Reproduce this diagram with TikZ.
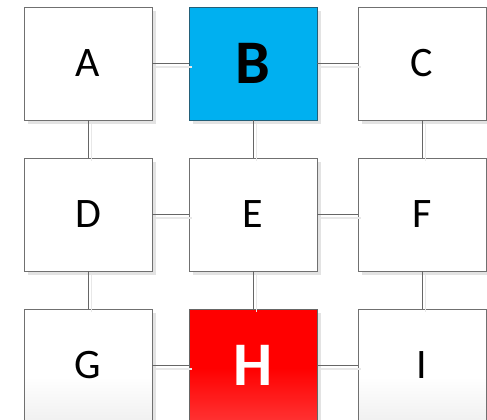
\documentclass[tikz,border=0pt]{standalone}
\usepackage{fontspec}
\setmainfont{Carlito}
\usepackage{xcolor}
\usetikzlibrary{shadows,positioning}
\definecolor{Bc}{RGB}{0,176,240}
\definecolor{Bline}{RGB}{35,95,120}
\definecolor{Hc}{RGB}{255,0,0}
\definecolor{Hlow}{RGB}{255,51,51}
\definecolor{Glow}{RGB}{240,240,240}
\definecolor{Boxline}{RGB}{112,112,112}
\pgfdeclareverticalshading{whitefade}{100bp}{color(0bp)=(Glow); color(25bp)=(Glow);
  color(45bp)=(white); color(100bp)=(white)}
\pgfdeclareverticalshading{redfade}{100bp}{color(0bp)=(Hlow); color(25bp)=(Hlow);
  color(49bp)=(Hc); color(100bp)=(Hc)}
\tikzset{
  cell/.style={rectangle,draw=Boxline,line width=0.9pt,fill=white,
               minimum width=128pt,minimum height=113pt,inner sep=0pt,
               font=\fontsize{42}{42}\selectfont,
               drop shadow={shadow xshift=4pt,shadow yshift=-4pt,
                            fill=black!11,opacity=1}},
  lowcell/.style={cell,shade,shading=whitefade},
  bc/.style={cell,fill=Bc,draw=Bline,font=\fontsize{62}{62}\selectfont\bfseries},
  hc/.style={cell,draw=black!60,text=white,shade,shading=redfade,
             font=\fontsize{62}{62}\selectfont\bfseries},
  lnk/.style={draw=black!60,line width=0.9pt,
              preaction={draw=black!9,line width=1.6pt,
                         transform canvas={shift={(3.5pt,-3.5pt)}}}},
}
\begin{document}
\begin{tikzpicture}[x=1pt,y=-1pt]
  \useasboundingbox (0,0) rectangle (487,420);
  % grid of cells
  \node[cell]     (A) at (88,63.5)   {A};
  \node[bc]       (B) at (253,63.5)  {B};
  \node[cell]     (C) at (422,63.5)  {C};
  \node[cell]     (D) at (88,214.5)  {D};
  \node[cell]     (E) at (253,214.5) {E};
  \node[cell]     (F) at (422,214.5) {F};
  \node[lowcell]  (G) at (88,365.5)  {G};
  \node[hc]       (H) at (253,365.5) {H};
  \node[lowcell]  (I) at (422,365.5) {I};
  % links, rows then columns
  \draw[lnk] (A) -- (B);
  \draw[lnk] (B) -- (C);
  \draw[lnk] (D) -- (E);
  \draw[lnk] (E) -- (F);
  \draw[lnk] (G) -- (H);
  \draw[lnk] (H) -- (I);
  \draw[lnk] (A) -- (D);
  \draw[lnk] (D) -- (G);
  \draw[lnk] (B) -- (E);
  \draw[lnk] (E) -- (H);
  \draw[lnk] (C) -- (F);
  \draw[lnk] (F) -- (I);
\end{tikzpicture}
\end{document}
